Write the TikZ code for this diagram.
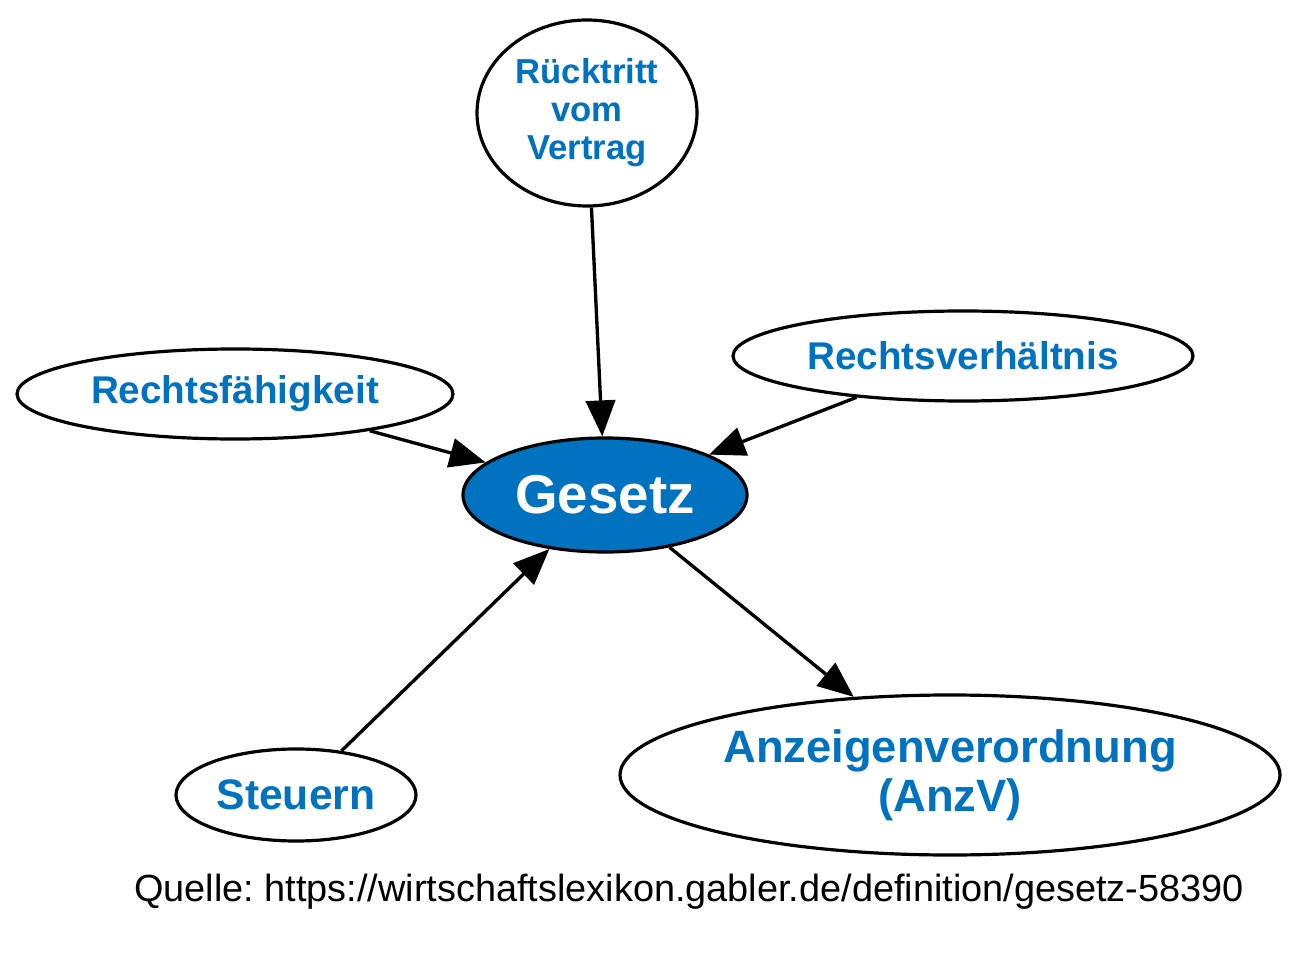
\documentclass[tikz,border=0pt]{standalone}
\usepackage{fontspec}
\setmainfont{Liberation Sans}
\usetikzlibrary{shapes.geometric,arrows.meta}
\definecolor{gblue}{RGB}{0,114,192}
\frenchspacing
\tikzset{
  every picture/.style={x=0.75pt,y=-0.75pt},
  ell/.style={ellipse,draw=black,line width=2.4pt,inner sep=0pt,fill=white,text=gblue,font=\bfseries,align=center},
  conn/.style={line width=2.5pt,-{Triangle[length=27pt,width=22pt]}},
}
\begin{document}
\begin{tikzpicture}
\useasboundingbox (0,0) rectangle (1300,955);
\node[ell,minimum width=284*0.75pt,minimum height=114*0.75pt,fill=gblue,text=white,font=\bfseries\fontsize{41}{45}\selectfont] (g) at (605,495) {Gesetz};
\node[ell,minimum width=220*0.75pt,minimum height=186*0.75pt,font=\bfseries\fontsize{26}{28.5}\selectfont] (r) at (587,113) {Rücktritt\\vom\\Vertrag};
\node[ell,minimum width=460*0.75pt,minimum height=90*0.75pt,font=\bfseries\fontsize{29}{32}\selectfont] (rv) at (963,356) {Rechtsverhältnis};
\node[ell,minimum width=436*0.75pt,minimum height=90*0.75pt,font=\bfseries\fontsize{29}{32}\selectfont] (rf) at (235,394) {Rechtsfähigkeit};
\node[ell,minimum width=240*0.75pt,minimum height=92*0.75pt,font=\bfseries\fontsize{32}{35}\selectfont] (s) at (296,795) {Steuern};
\node[ell,minimum width=660*0.75pt,minimum height=160*0.75pt,font=\bfseries\fontsize{34}{36.75}\selectfont] (a) at (950,775) {Anzeigenverordnung\\(AnzV)};
\node[font=\fontsize{28.4}{32}\selectfont] (q) at (689,892) {Quelle: https://wirtschaftslexikon.gabler.de/definition/gesetz-58390};
\draw[conn] (r) -- (g);
\draw[conn] (rv) -- (g);
\draw[conn] (rf) -- (g);
\draw[conn] (s) -- (g);
\draw[conn] (g) -- (a);
\end{tikzpicture}
\end{document}
